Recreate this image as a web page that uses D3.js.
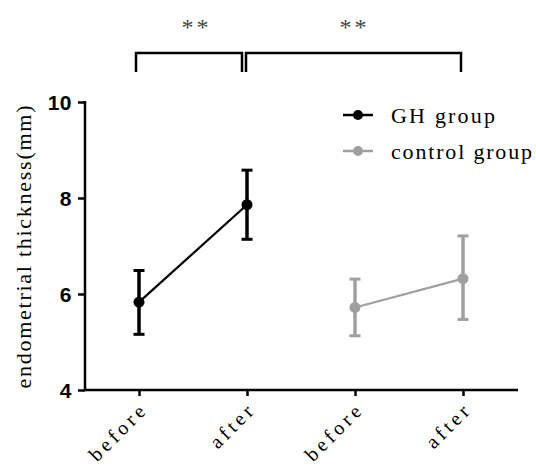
<!DOCTYPE html>
<html><head><meta charset="utf-8">
<script src="https://cdn.jsdelivr.net/npm/d3@7"></script>
<style>body{margin:0;background:#fff;} svg{display:block;}</style>
</head><body>
<svg id="c" width="536" height="467"></svg>
<script>
const categories = ["before", "after", "before", "after"];
const ghMean = [5.83, 7.86];
const ghUpper = [6.49, 8.58];
const ghLower = [5.16, 7.14];
const ctrlMean = [5.72, 6.32];
const ctrlUpper = [6.31, 7.21];
const ctrlLower = [5.13, 5.47];
const yTicks = [4, 6, 8, 10];
const seriesNames = ["GH group", "control group"];
const seriesColors = ["#000000", "#a0a0a0"];
const sigLabels = ["**", "**"];

const svg = d3.select("#c");
const x = d3.scalePoint().domain(d3.range(categories.length)).range([139, 463]);
const y = d3.scaleLinear().domain([4, 10]).range([390, 102]);
const serif = "'Times New Roman', 'Liberation Serif', 'DejaVu Serif', serif";

// axes
const yAxis = d3.axisLeft(y).tickValues(yTicks).tickSize(7).tickSizeOuter(0).tickFormat(d3.format("d"));
const gy = svg.append("g").attr("transform", "translate(85,0)").call(yAxis);
gy.select(".domain").attr("stroke-width", 2.5).attr("d", "M0,101V391");
gy.selectAll(".tick line").attr("stroke-width", 2.5);
gy.selectAll(".tick text").attr("x", -13).attr("dy", "0.36em")
  .style("font-family", "'Liberation Sans Narrow', 'Liberation Sans', Arial, sans-serif")
  .style("font-weight", "bold").style("font-size", "21px").style("letter-spacing", "0.5px").attr("fill", "#000");

const xAxis = d3.axisBottom(x).tickSize(6).tickSizeOuter(0).tickFormat(i => categories[i]);
const gx = svg.append("g").attr("transform", "translate(0,390)").call(xAxis);
gx.select(".domain").attr("stroke-width", 2.5).attr("d", "M84,0H518");
gx.selectAll(".tick line").attr("stroke-width", 2.5);
gx.selectAll(".tick text")
  .attr("text-anchor", "end").attr("dy", 0).attr("y", 0)
  .attr("textLength", i => categories[i] === "before" ? 70 : 52).attr("lengthAdjust", "spacing")
  .attr("transform", "translate(7,23) rotate(-45)")
  .style("font-family", serif).style("font-size", "20px").attr("fill", "#000");

// y title
svg.append("text")
  .attr("transform", "translate(31,247) rotate(-90)")
  .attr("text-anchor", "middle")
  .attr("textLength", 283).attr("lengthAdjust", "spacing")
  .style("font-family", serif).style("font-size", "22px")
  .text("endometrial thickness(mm)");

// series
const series = [
  {idx: [0, 1], mean: ghMean, up: ghUpper, lo: ghLower, color: seriesColors[0]},
  {idx: [2, 3], mean: ctrlMean, up: ctrlUpper, lo: ctrlLower, color: seriesColors[1]}
];
const line = d3.line().x(d => x(d[0])).y(d => y(d[1]));
series.forEach(s => {
  const g = svg.append("g");
  const pts = s.idx.map((k, i) => [k, s.mean[i], s.up[i], s.lo[i]]);
  g.append("path").attr("d", line(pts)).attr("fill", "none").attr("stroke", s.color).attr("stroke-width", 2.2);
  pts.forEach(p => {
    const cx = x(p[0]);
    g.append("line").attr("x1", cx).attr("x2", cx).attr("y1", y(p[2])).attr("y2", y(p[3]))
      .attr("stroke", s.color).attr("stroke-width", 3.5);
    [p[2], p[3]].forEach(v => {
      g.append("line").attr("x1", cx - 5.5).attr("x2", cx + 5.5).attr("y1", y(v)).attr("y2", y(v))
        .attr("stroke", s.color).attr("stroke-width", 3);
    });
    g.append("circle").attr("cx", cx).attr("cy", y(p[1])).attr("r", 5.5).attr("fill", s.color);
  });
});

// legend
seriesNames.forEach((name, i) => {
  const ly = 115 + i * 36;
  svg.append("line").attr("x1", 343).attr("x2", 373).attr("y1", ly).attr("y2", ly)
    .attr("stroke", seriesColors[i]).attr("stroke-width", 2.5);
  svg.append("circle").attr("cx", 358).attr("cy", ly).attr("r", 5).attr("fill", seriesColors[i]);
  svg.append("text").attr("x", 391).attr("y", ly + 8)
    .attr("textLength", i === 0 ? 104 : 141).attr("lengthAdjust", "spacing")
    .style("font-family", serif).style("font-size", "22px").attr("fill", "#000")
    .text(name);
});

// significance brackets
const brackets = [
  {a: x(0) - 3, b: x(1) - 5, starX: 195},
  {a: x(1) - 1, b: x(3) - 2, starX: 353}
];
brackets.forEach((br, i) => {
  svg.append("path")
    .attr("d", `M${br.a},72V53H${br.b}V72`)
    .attr("fill", "none").attr("stroke", "#000").attr("stroke-width", 2.5);
  svg.append("text").attr("x", br.starX).attr("y", 35).attr("text-anchor", "middle")
    .attr("textLength", 27).attr("lengthAdjust", "spacing")
    .style("font-family", serif).style("font-size", "24px").attr("fill", "#444")
    .text(sigLabels[i]);
});
</script>
</body></html>
